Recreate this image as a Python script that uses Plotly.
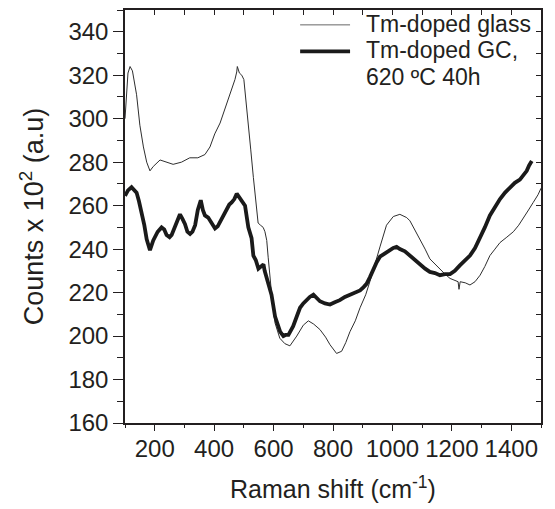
import plotly.graph_objects as go

# Tm-doped glass (thin)
glass_x = [100, 105, 110, 117, 125, 139, 150, 162, 173, 184, 195, 218, 240, 262, 290, 318, 345, 369, 386, 402, 420, 442, 459, 470, 476, 478, 485, 493, 500, 509, 516, 523, 532, 543, 548, 556, 565, 571, 577, 582, 588, 593, 605, 621, 638, 655, 678, 700, 717, 735, 756, 775, 790, 812, 829, 843, 857, 875, 891, 910, 924, 940, 958, 980, 1003, 1025, 1048, 1059, 1075, 1093, 1110, 1126, 1143, 1160, 1177, 1194, 1210, 1221, 1224, 1228, 1245, 1261, 1278, 1295, 1311, 1328, 1345, 1362, 1385, 1407, 1425, 1440, 1458, 1474, 1490, 1500]
glass_y = [300, 312, 321, 324, 322, 311, 297, 287, 280, 276, 278, 281, 280, 279, 280, 282, 282, 283.5, 287, 293, 298, 307, 313, 318, 321.5, 324, 321, 320, 318, 304, 295, 286, 273, 257, 252, 251, 250, 248, 244, 236, 226, 220, 206, 199, 196.5, 195.5, 200, 205, 207, 205.5, 203, 199.5, 196, 192, 193, 197, 202, 207, 213, 219, 225, 232, 241, 251, 255, 256, 254.5, 253, 249, 244, 240, 235.5, 233, 230.5, 228.5, 226.5, 225.5, 225, 221.5, 225, 224.5, 223.5, 225, 228, 232, 237, 240, 243, 245.5, 248, 251, 254, 258, 261.5, 265, 268]

# Tm-doped GC, 620 ºC 40h (thick)
gc_x = [100, 110, 122, 130, 139, 147, 156, 165, 173, 184, 195, 210, 223, 232, 240, 250, 257, 270, 285, 293, 302, 310, 319, 327, 336, 345, 355, 362, 369, 380, 392, 403, 412, 420, 431, 442, 451, 459, 468, 476, 485, 493, 504, 515, 526, 532, 540, 549, 560, 566, 570, 577, 585, 593, 605, 622, 633, 640, 650, 666, 678, 689, 700, 711, 722, 734, 745, 756, 773, 790, 806, 823, 840, 857, 874, 891, 903, 913, 924, 936, 947, 958, 975, 992, 1003, 1014, 1025, 1042, 1059, 1076, 1093, 1110, 1126, 1143, 1160, 1177, 1194, 1210, 1227, 1244, 1261, 1278, 1295, 1311, 1328, 1345, 1362, 1379, 1396, 1412, 1429, 1440, 1452, 1460, 1469]
gc_y = [264.5, 267, 268.5, 267.5, 266, 262, 257, 251, 244.5, 239.5, 244, 248, 250, 249, 246.5, 245.5, 246.5, 251, 256, 254, 251.5, 248, 247, 248, 251, 258, 262.5, 258, 255.5, 254.5, 252, 249.5, 250.5, 252.5, 255, 258.5, 260.5, 261.5, 263, 265.5, 263.5, 262.5, 260, 250, 245, 237, 235, 231, 232.5, 233, 230, 226.5, 224, 219, 209, 202, 200, 200.5, 200.5, 204.5, 209, 213, 215, 216.5, 218, 219, 217.5, 216, 215, 214.5, 215.5, 216.5, 218, 219, 220, 221, 222.5, 224, 227, 231, 234, 236.5, 238, 240, 240.5, 241, 240, 239, 237, 235, 232.5, 231, 229.5, 229, 228, 228.5, 228.5, 230, 232.5, 234.5, 237, 240.5, 245, 250, 255.5, 259.5, 263, 266, 268.5, 270.5, 272, 274, 276, 278.5, 280.5]

x_ticks = [200, 400, 600, 800, 1000, 1200, 1400]
y_ticks = [160, 180, 200, 220, 240, 260, 280, 300, 320, 340]

legend_lines = ["Tm-doped glass", "Tm-doped GC,", "620 ºC 40h"]

FONT = "Liberation Sans, Arial, sans-serif"
INK = "#231f20"
THIN_W, THICK_W = 1.0, 3.8

fig = go.Figure()
fig.add_trace(go.Scatter(x=glass_x, y=glass_y, mode="lines", name=legend_lines[0],
                         line=dict(color="#2e2e2e", width=THIN_W), showlegend=False))
fig.add_trace(go.Scatter(x=gc_x, y=gc_y, mode="lines", name=legend_lines[1] + " " + legend_lines[2],
                         line=dict(color="#1a1a1a", width=THICK_W), showlegend=False))
# invisible traces to host the extra tick-only axes
fig.add_trace(go.Scatter(x=[None], y=[None], xaxis="x2", yaxis="y2", showlegend=False,
                         hoverinfo="skip"))
fig.add_trace(go.Scatter(x=[None], y=[None], xaxis="x3", yaxis="y", showlegend=False,
                         hoverinfo="skip"))

# hand-made legend (long line samples as in the reference)
fig.add_shape(type="line", xref="paper", yref="paper", x0=0.421, x1=0.541, y0=0.964, y1=0.964,
              line=dict(color="#666666", width=THIN_W))
fig.add_shape(type="line", xref="paper", yref="paper", x0=0.421, x1=0.541, y0=0.900, y1=0.900,
              line=dict(color="#1a1a1a", width=THICK_W))
for txt, yy in zip(legend_lines, [0.966, 0.902, 0.838]):
    fig.add_annotation(xref="paper", yref="paper", x=0.574, y=yy, xanchor="left", yanchor="middle",
                       text=txt, showarrow=False, font=dict(size=23, color=INK))

fig.update_layout(
    width=555, height=509,
    margin=dict(l=125, r=14, t=10, b=83),
    paper_bgcolor="white", plot_bgcolor="white",
    font=dict(family=FONT, size=24, color=INK),
    showlegend=False,
    xaxis=dict(range=[100, 1500], tickvals=x_ticks, ticks="", showline=True, linecolor=INK,
               linewidth=1.5, showgrid=False, zeroline=False, ticklabelstandoff=3,
               title=dict(text="Raman shift (cm<sup>-1</sup>)", standoff=20, font=dict(size=25)),
               tickfont=dict(size=24)),
    xaxis3=dict(range=[100, 1500], overlaying="x", side="bottom", tickvals=x_ticks,
                ticks="outside", ticklen=7, tickwidth=1.3, tickcolor=INK, showticklabels=False,
                showline=False, showgrid=False, zeroline=False,
                minor=dict(dtick=100, tick0=100, ticks="outside", ticklen=4, tickcolor=INK,
                           tickwidth=1.3, showgrid=False)),
    yaxis=dict(range=[160, 350], tickvals=y_ticks, ticks="outside", ticklen=10, tickwidth=1.3,
               tickcolor=INK, showline=True, linecolor=INK, linewidth=1.5, showgrid=False,
               zeroline=False, minor=dict(dtick=10, tick0=160, ticks="outside", ticklen=6,
                                          tickcolor=INK, tickwidth=1.3, showgrid=False),
               title=dict(text="Counts x 10<sup>2</sup> (a.u)", standoff=17, font=dict(size=27)),
               tickfont=dict(size=24)),
    xaxis2=dict(range=[100, 1500], overlaying="x", side="top", dtick=100, tick0=100,
                ticks="inside", ticklen=5, tickwidth=1.3, tickcolor=INK, showticklabels=False,
                showline=True, linecolor=INK, linewidth=1.5, showgrid=False, zeroline=False),
    yaxis2=dict(range=[160, 350], overlaying="y", side="right", dtick=10, tick0=160,
                ticks="inside", ticklen=5, tickwidth=1.3, tickcolor=INK, showticklabels=False,
                showline=True, linecolor=INK, linewidth=1.5, showgrid=False, zeroline=False),
)

fig.write_html("out.html")
